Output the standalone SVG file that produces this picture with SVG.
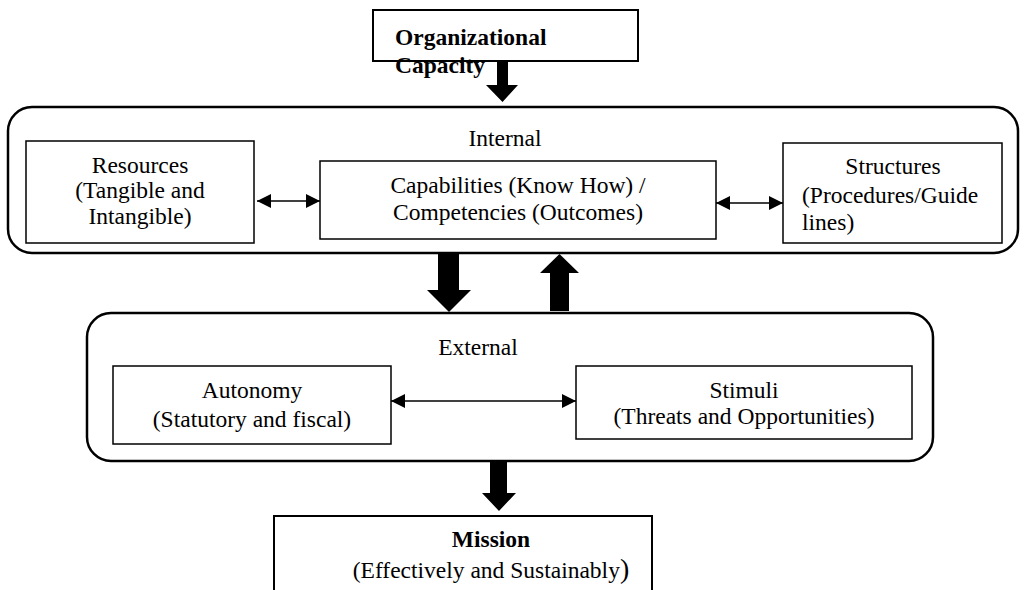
<svg xmlns="http://www.w3.org/2000/svg" width="1026" height="590" viewBox="0 0 1026 590">
<style>
  text { font-family: "Liberation Serif", "Times New Roman", serif; font-size: 23.5px; fill: #000; }
  .b { font-weight: bold; }
  .c { text-anchor: middle; }
  .grp { fill: none; stroke: #000; stroke-width: 2.5; }
  .box { fill: #fff; stroke: #000; stroke-width: 1.5; }
  .tbox { fill: #fff; stroke: #000; stroke-width: 2; }
  .link { stroke: #000; stroke-width: 1.5; fill: none; }
  .blk { fill: #000; stroke: none; }
</style>
<defs>
  <marker id="ah" viewBox="0 0 10 10" refX="10" refY="5" markerWidth="15" markerHeight="14" markerUnits="userSpaceOnUse" orient="auto-start-reverse">
    <path d="M0,0 L10,5 L0,10 Z" fill="#000"/>
  </marker>
</defs>
<rect width="1026" height="590" fill="#fff"/>

<g id="internal">
  <rect class="grp" x="8" y="107" width="1010" height="146" rx="24"/>
  <text class="c" x="505" y="146">Internal</text>
</g>
<g id="external">
  <rect class="grp" x="87" y="313" width="846" height="148" rx="24"/>
  <text class="c" x="478" y="355">External</text>
</g>

<g id="org-capacity">
  <rect class="tbox" x="373" y="10" width="265" height="51"/>
  <text class="b" x="395" y="45">Organizational</text>
  <text class="b" x="395" y="73">Capacity</text>
</g>

<g id="resources">
  <rect class="box" x="26" y="141" width="228" height="102"/>
  <text class="c" x="140" y="173">Resources</text>
  <text class="c" x="140" y="198">(Tangible and</text>
  <text class="c" x="140" y="224">Intangible)</text>
</g>

<g id="capabilities">
  <rect class="box" x="320" y="161" width="396" height="78"/>
  <text class="c" x="518" y="193">Capabilities (Know How) /</text>
  <text class="c" x="518" y="220">Competencies (Outcomes)</text>
</g>

<g id="structures">
  <rect class="box" x="783" y="143" width="219" height="100"/>
  <text class="c" x="893" y="174">Structures</text>
  <text x="802" y="203">(Procedures/Guide</text>
  <text x="802" y="230">lines)</text>
</g>

<g id="autonomy">
  <rect class="box" x="113" y="366" width="278" height="78"/>
  <text class="c" x="252" y="398">Autonomy</text>
  <text class="c" x="252" y="427">(Statutory and fiscal)</text>
</g>

<g id="stimuli">
  <rect class="box" x="576" y="366" width="336" height="73"/>
  <text class="c" x="744" y="398">Stimuli</text>
  <text class="c" x="744" y="424">(Threats and Opportunities)</text>
</g>

<g id="mission">
  <rect class="tbox" x="274" y="516" width="378" height="90"/>
  <text class="c b" x="491" y="547">Mission</text>
  <text class="c" x="491" y="578">(Effectively and Sustainably<tspan font-size="28">)</tspan></text>
</g>

<g id="connectors">
  <polygon class="blk" points="497,61 508,61 508,85 518,85 502.5,102 486,85 497,85"/>
  <polygon class="blk" points="438,254 459,254 459,290 471,290 449,312 427,290 438,290"/>
  <polygon class="blk" points="550,311 569,311 569,273 579,273 559.5,254 540,273 550,273"/>
  <polygon class="blk" points="490,461 507,461 507,493 516,493 499,511 482,493 490,493"/>
  <line class="link" x1="257" y1="201" x2="320" y2="201" marker-start="url(#ah)" marker-end="url(#ah)"/>
  <line class="link" x1="716" y1="203" x2="783" y2="203" marker-start="url(#ah)" marker-end="url(#ah)"/>
  <line class="link" x1="391" y1="401" x2="576" y2="401" marker-start="url(#ah)" marker-end="url(#ah)"/>
</g>
</svg>
